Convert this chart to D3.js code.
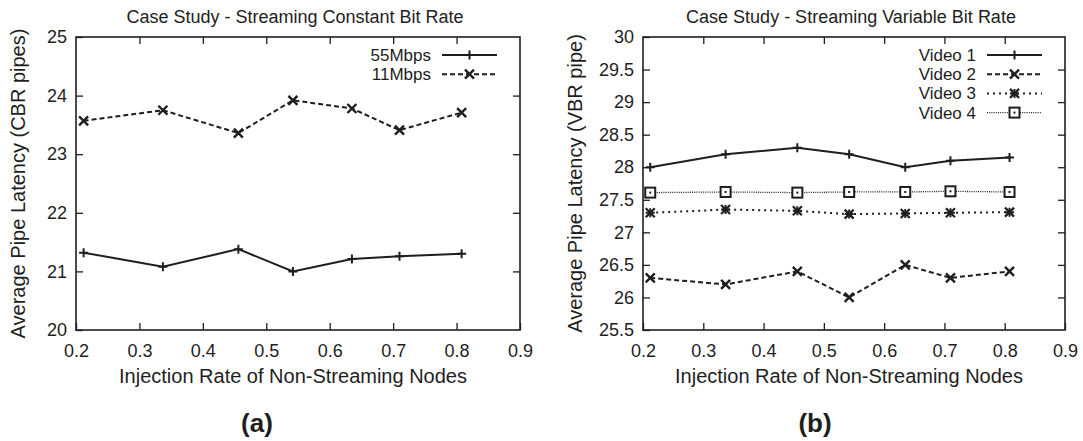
<!DOCTYPE html>
<html>
<head>
<meta charset="utf-8">
<title>Case Study - Streaming</title>
<script src="https://cdn.jsdelivr.net/npm/d3@7"></script>
<style>
  body { margin: 0; background: #fff; }
  svg { display: block; font-family: "Liberation Sans", Arial, sans-serif; }
  .tick text { font-size: 18px; fill: #1e1e1e; }
</style>
</head>
<body>
<svg id="chart" width="1083" height="441"></svg>
<script>
// injection rates shared by both panels
var rates = [0.212, 0.337, 0.456, 0.542, 0.635, 0.71, 0.808];

// panel (a) - constant bit rate
var cbr55 = [21.32, 21.08, 21.38, 21.0, 21.21, 21.26, 21.30];
var cbr11 = [23.57, 23.75, 23.36, 23.92, 23.78, 23.41, 23.71];
var cbrNames = ["55Mbps", "11Mbps"];

// panel (b) - variable bit rate
var video1 = [28.0, 28.2, 28.3, 28.2, 28.0, 28.1, 28.15];
var video2 = [26.3, 26.2, 26.4, 26.0, 26.5, 26.3, 26.4];
var video3 = [27.3, 27.35, 27.33, 27.28, 27.29, 27.3, 27.31];
var video4 = [27.61, 27.62, 27.61, 27.62, 27.62, 27.63, 27.62];
var vbrNames = ["Video 1", "Video 2", "Video 3", "Video 4"];

var xTicks = [0.2, 0.3, 0.4, 0.5, 0.6, 0.7, 0.8, 0.9];
var cbrTicks = [20, 21, 22, 23, 24, 25];
var vbrTicks = [25.5, 26, 26.5, 27, 27.5, 28, 28.5, 29, 29.5, 30];

var ink = "#1e1e1e";
var svg = d3.select("#chart");

// line styles: dash, marker
var styles = [
  {dash: null, width: 2, marker: "plus"},
  {dash: "5,3", width: 2, marker: "cross"},
  {dash: "2,4", width: 2, marker: "star"},
  {dash: "1,1.2", width: 1.3, marker: "box"}
];

function drawMarker(g, type, x, y) {
  var s = 4.5;
  if (type == "plus" || type == "star") {
    g.append("path").attr("d", "M" + (x - s) + "," + y + "H" + (x + s) + "M" + x + "," + (y - s) + "V" + (y + s))
      .attr("stroke", ink).attr("stroke-width", 2);
  }
  if (type == "cross" || type == "star") {
    g.append("path").attr("d", "M" + (x - s) + "," + (y - s) + "L" + (x + s) + "," + (y + s) + "M" + (x - s) + "," + (y + s) + "L" + (x + s) + "," + (y - s))
      .attr("stroke", ink).attr("stroke-width", type == "star" ? 2.2 : 2.4);
  }
  if (type == "box") {
    g.append("rect").attr("x", x - 5).attr("y", y - 5).attr("width", 10).attr("height", 10)
      .attr("fill", "#fff").attr("stroke", ink).attr("stroke-width", 2);
    g.append("rect").attr("x", x - 1).attr("y", y - 1).attr("width", 2).attr("height", 2).attr("fill", ink);
  }
}

function panel(opt) {
  var x = d3.scaleLinear().domain([0.2, 0.9]).range([opt.left, opt.right]);
  var y = d3.scaleLinear().domain(opt.yDomain).range([330, 37]);
  var g = svg.append("g");

  // mirrored inward ticks
  g.append("g").attr("transform", "translate(0,330)")
    .call(d3.axisBottom(x).tickValues(xTicks).tickSize(-7).tickPadding(14).tickFormat(d3.format(".1f")));
  g.append("g").attr("transform", "translate(0,37)")
    .call(d3.axisTop(x).tickValues(xTicks.slice(1, -1)).tickSize(-7).tickFormat(""));
  g.append("g").attr("transform", "translate(" + opt.left + ",0)")
    .call(d3.axisLeft(y).tickValues(opt.yTicks).tickSize(-7).tickPadding(9).tickFormat(d3.format("")));
  g.append("g").attr("transform", "translate(" + opt.right + ",0)")
    .call(d3.axisRight(y).tickValues(opt.yTicks.slice(1, -1)).tickSize(-7).tickFormat(""));
  g.selectAll(".domain").remove();
  g.selectAll(".tick line").attr("stroke", ink).attr("stroke-width", 1.3);
  g.append("rect").attr("x", opt.left).attr("y", 37).attr("width", opt.right - opt.left).attr("height", 293)
    .attr("fill", "none").attr("stroke", ink).attr("stroke-width", 1.6);

  var line = d3.line().x(function(d, i) { return x(rates[i]); }).y(function(d) { return y(d); });

  opt.series.forEach(function(vals, k) {
    var st = styles[k];
    g.append("path").datum(vals).attr("d", line).attr("fill", "none")
      .attr("stroke", ink).attr("stroke-width", st.width).attr("stroke-dasharray", st.dash);
    vals.forEach(function(v, i) { drawMarker(g, st.marker, x(rates[i]), y(v)); });

    // legend entry
    var ly = opt.legY + k * opt.legStep;
    g.append("text").attr("x", opt.legText).attr("y", ly + 6).attr("text-anchor", "end")
      .attr("font-size", 17).attr("fill", ink).text(opt.names[k]);
    g.append("line").attr("x1", opt.legText + 11).attr("x2", opt.legText + 66).attr("y1", ly).attr("y2", ly)
      .attr("stroke", ink).attr("stroke-width", st.width).attr("stroke-dasharray", st.dash);
    drawMarker(g, st.marker, opt.legText + 38.5, ly);
  });

  var cx = (opt.left + opt.right) / 2;
  g.append("text").attr("x", cx - 3).attr("y", 23).attr("text-anchor", "middle")
    .attr("font-size", 18).attr("fill", ink).text(opt.title);
  g.append("text").attr("x", cx - 5).attr("y", 383).attr("text-anchor", "middle")
    .attr("font-size", 20).attr("fill", ink).text("Injection Rate of Non-Streaming Nodes");
  g.append("text").attr("transform", "translate(" + opt.yLabX + ",183.5) rotate(-90)").attr("text-anchor", "middle")
    .attr("font-size", 20).attr("fill", ink).text(opt.yLabel);
  g.append("text").attr("x", opt.capX).attr("y", 432).attr("text-anchor", "middle")
    .attr("font-size", 26).attr("font-weight", "bold").attr("fill", ink).text(opt.cap);
}

panel({
  left: 76, right: 520, yDomain: [20, 25], yTicks: cbrTicks,
  series: [cbr55, cbr11], names: cbrNames,
  legText: 431, legY: 55, legStep: 19.2,
  title: "Case Study - Streaming Constant Bit Rate",
  yLabel: "Average Pipe Latency (CBR pipes)", yLabX: 25, capX: 257, cap: "(a)"
});

panel({
  left: 643, right: 1065, yDomain: [25.5, 30], yTicks: vbrTicks,
  series: [video1, video2, video3, video4], names: vbrNames,
  legText: 976, legY: 55, legStep: 19.2,
  title: "Case Study - Streaming Variable Bit Rate",
  yLabel: "Average Pipe Latency (VBR pipe)", yLabX: 582, capX: 815, cap: "(b)"
});
</script>
</body>
</html>
